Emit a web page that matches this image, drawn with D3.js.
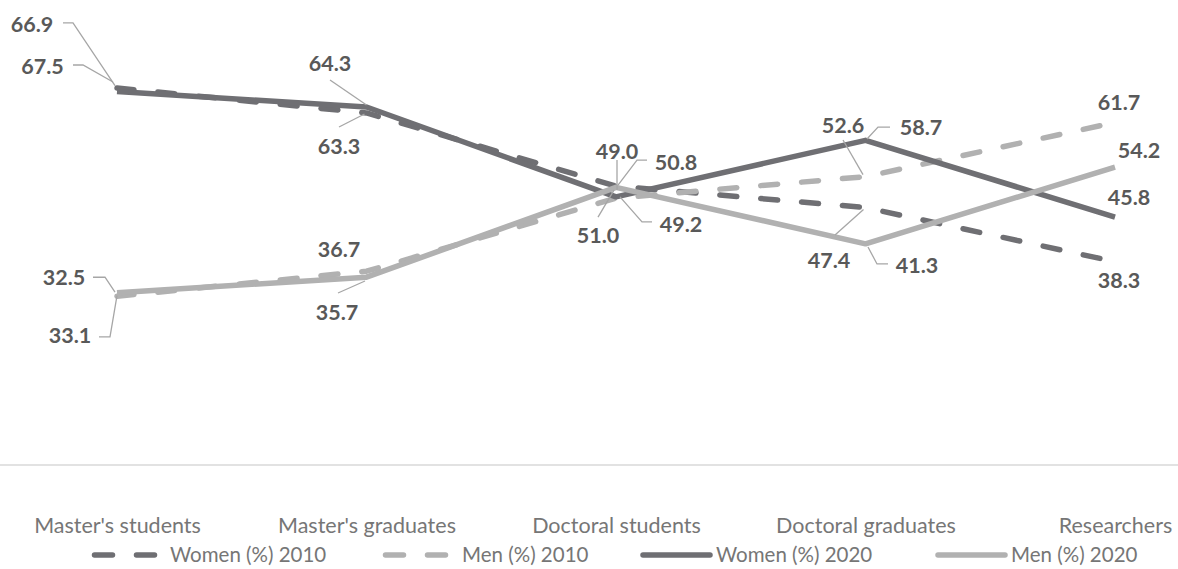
<!DOCTYPE html>
<html>
<head>
<meta charset="utf-8">
<script src="https://cdn.jsdelivr.net/npm/d3@7"></script>
<style>
  html, body { margin: 0; padding: 0; background: #ffffff; }
  svg { display: block; }
</style>
</head>
<body>
<svg id="chart" width="1178" height="569"></svg>
<script>
// Share of women and men along the academic career path, 2010 vs 2020
const categories = ["Master's students", "Master's graduates", "Doctoral students", "Doctoral graduates", "Researchers"];
const women2010 = [67.5, 63.3, 51.0, 47.4, 38.3];
const men2010   = [32.5, 36.7, 49.0, 52.6, 61.7];
const women2020 = [66.9, 64.3, 49.2, 58.7, 45.8];
const men2020   = [33.1, 35.7, 50.8, 41.3, 54.2];
const seriesNames = ["Women (%) 2010", "Men (%) 2010", "Women (%) 2020", "Men (%) 2020"];

// Label placement: text offset from its point, plus leader-line vertices (also relative to the point)
const labelLayout = [
  [ // Women 2010
    { dx: -74.5, dy: -22,   leader: [[-44, -23], [-34, -23], [-4, -6]] },
    { dx: -27.5, dy: 33,    leader: [[-27.5, 14], [-2, 1]] },
    { dx: -18,   dy: 49.5,  leader: [[-18, 31], [-2, 4]] },
    { dx: -36.5, dy: 53,    leader: [[-30.5, 27.4], [-2, 2]] },
    { dx: 4,     dy: 19,    leader: null }
  ],
  [ // Men 2010
    { dx: -53,   dy: -18.7, leader: [[-24, -19], [-12, -19], [-2, -4]] },
    { dx: -27.5, dy: -21.7, leader: null },
    { dx: 1,     dy: -47,   leader: [[1, -38], [1, -8]] },
    { dx: -22.5, dy: -51,   leader: [[-22.5, -36.6], [-2.5, -2]] },
    { dx: 4,     dy: -20,   leader: null }
  ],
  [ // Women 2020
    { dx: -85,   dy: -67,   leader: [[-54, -68.6], [-44, -68.6], [-2, -6]] },
    { dx: -36.5, dy: -44,   leader: [[-36.5, -27], [0, -2]] },
    { dx: 65,    dy: 27,    leader: [[36, 25], [26, 25], [4, 0]] },
    { dx: 55.5,  dy: -12.8, leader: [[24.5, -13.3], [12.5, -13.3], [1.5, -1.3]] },
    { dx: 14,    dy: -19.6, leader: null }
  ],
  [ // Men 2020
    { dx: -47,   dy: 43,    leader: [[-18, 44.3], [-7, 44.3], [0, 3]] },
    { dx: -29.5, dy: 35,    leader: [[-28.5, 15.8], [-1.5, 3.8]] },
    { dx: 60,    dy: -25,   leader: [[31, -27.3], [21, -27.3], [2, -2.3]] },
    { dx: 51.5,  dy: 21,    leader: [[22.5, 20.1], [11.5, 20.1], [2.5, 3.1]] },
    { dx: 24,    dy: -16.6, leader: null }
  ]
];

const DARK = "#6f6f73";
const LIGHT = "#b1b1b1";
const seriesStyles = [
  { color: DARK,  dash: "17,24" },
  { color: LIGHT, dash: "17,24" },
  { color: DARK,  dash: null },
  { color: LIGHT, dash: null }
];

const seriesValues = [women2010, men2010, women2020, men2020];
const series = seriesNames.map((name, i) => ({
  name,
  values: seriesValues[i].map((v, j) => ({ cat: categories[j], value: v })),
  style: seriesStyles[i],
  labels: labelLayout[i]
}));

const svg = d3.select("#chart");
const FONT = "Lato, 'Open Sans', sans-serif";
const plotBottom = 465;

const x = d3.scalePoint().domain(categories).range([117, 1115]);
const y = d3.scaleLinear().domain([0, 80]).range([489.6, 13.6]);

// Category axis along the bottom of the plot area, labels centred, no ticks
const xAxis = d3.axisBottom(x).tickSize(0).tickPadding(53);
const axisG = svg.append("g")
  .attr("transform", `translate(0,${plotBottom})`)
  .call(xAxis);
axisG.select(".domain").remove();
axisG.append("line")
  .attr("x1", 0).attr("x2", 1178)
  .attr("stroke", "#d9d9d9").attr("stroke-width", 1.3);
axisG.selectAll(".tick text")
  .attr("font-family", FONT)
  .attr("font-size", 21.5)
  .attr("fill", "#767676");

// Lines
const line = d3.line()
  .x(d => x(d.cat))
  .y(d => y(d.value));

svg.append("g").selectAll("path")
  .data(series)
  .join("path")
  .attr("d", s => line(s.values))
  .attr("fill", "none")
  .attr("stroke", s => s.style.color)
  .attr("stroke-width", 5.5)
  .attr("stroke-linecap", s => s.style.dash ? "round" : "butt")
  .attr("stroke-linejoin", "round")
  .attr("stroke-dasharray", s => s.style.dash);

// Leader lines and value labels
const labelG = svg.append("g");
series.forEach(s => {
  s.values.forEach((d, j) => {
    const px = x(d.cat), py = y(d.value);
    const lay = s.labels[j];
    if (lay.leader) {
      labelG.append("path")
        .attr("d", d3.line()(lay.leader.map(p => [px + p[0], py + p[1]])))
        .attr("fill", "none")
        .attr("stroke", "#a6a6a6")
        .attr("stroke-width", 1.3);
    }
    labelG.append("text")
      .attr("x", px + lay.dx)
      .attr("y", py + lay.dy)
      .attr("dy", "0.36em")
      .attr("text-anchor", "middle")
      .attr("font-family", FONT)
      .attr("font-weight", "bold")
      .attr("font-size", 21.5)
      .attr("fill", "#595959")
      .text(d3.format(".1f")(d.value));
  });
});

// Legend
const legendPos = [
  { sx: 94.5, ex: 154.5, tx: 170 },
  { sx: 385.5, ex: 445.5, tx: 462 },
  { sx: 643, ex: 710, tx: 716 },
  { sx: 938, ex: 1005, tx: 1011 }
];
const legendY = 555;
const legend = svg.append("g");
series.forEach((s, i) => {
  const p = legendPos[i];
  legend.append("line")
    .attr("x1", p.sx).attr("x2", p.ex)
    .attr("y1", legendY).attr("y2", legendY)
    .attr("stroke", s.style.color)
    .attr("stroke-width", 5.5)
    .attr("stroke-linecap", "round")
    .attr("stroke-dasharray", s.style.dash ? "18,24" : null);
  legend.append("text")
    .attr("x", p.tx).attr("y", legendY)
    .attr("dy", "0.36em")
    .attr("font-family", FONT)
    .attr("font-size", 20.5)
    .attr("fill", "#767676")
    .text(s.name);
});
</script>
</body>
</html>
